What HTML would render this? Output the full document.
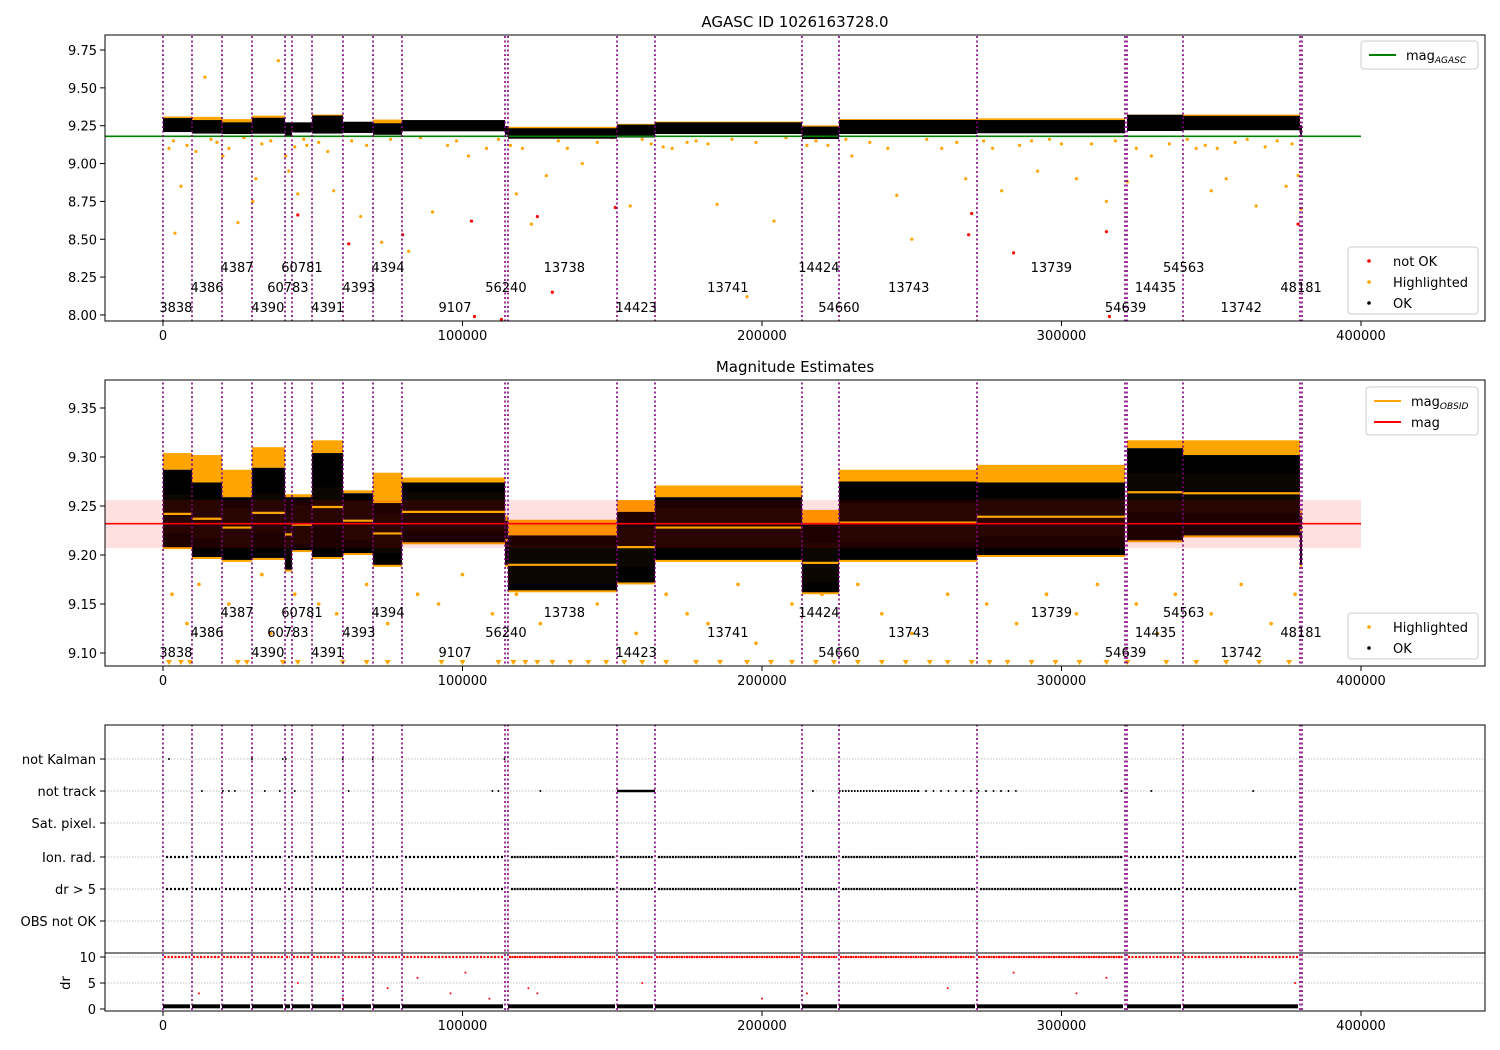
<!DOCTYPE html>
<html><head><meta charset="utf-8"><style>
body{margin:0;background:#fff}
svg{display:block;font-family:"DejaVu Sans","Liberation Sans",sans-serif}
</style></head><body>
<svg id="c" width="1500" height="1050" xmlns="http://www.w3.org/2000/svg"></svg>
<script>
// ---- data ----
const segStart=[0,9683,19700,29716,40735,43072,49750,60100,70117,79800,114190,115190,151586,164274,213356,225710,271786,321870,340568,379633];
const segEnd  =[9683,19700,29716,40735,43072,49750,60100,70117,79800,114190,115190,151586,164274,213356,225710,271786,321202,340568,379633,380300];
const magObs  =[9.242,9.237,9.228,9.243,9.221,9.231,9.249,9.235,9.222,9.244,9.215,9.190,9.208,9.228,9.192,9.233,9.239,9.264,9.263,9.225];
const okHigh  =[9.287,9.274,9.259,9.289,9.259,9.259,9.304,9.263,9.253,9.274,9.235,9.220,9.244,9.259,9.231,9.275,9.274,9.309,9.302,9.240];
const okLow   =[9.208,9.198,9.195,9.197,9.185,9.205,9.198,9.202,9.190,9.213,9.190,9.164,9.172,9.195,9.162,9.195,9.200,9.215,9.220,9.190];
const hlHigh  =[9.304,9.302,9.287,9.310,9.262,9.262,9.317,9.266,9.284,9.279,9.240,9.236,9.256,9.271,9.246,9.287,9.292,9.317,9.317,9.245];
const boundaries=[0,9683,19700,29716,40735,43072,49750,60100,70117,79800,114190,115190,151586,164274,213356,225710,271786,321202,321870,340568,379633,380300];
const obsLabels=["3838","4386","4387","4390","60783","60781","4391","4393","4394","9107","56240","13738","14423","13741","14424","54660","13743","13739","54639","14435","54563","13742","48181"];
const obsLabelT=[4300,14700,24700,35000,41700,46400,55000,65400,75100,97500,114500,134000,158000,188600,219000,225700,249000,296600,321400,331400,340800,360000,380000];
const obsLabelRow=[0,1,2,0,1,2,0,1,2,0,1,2,0,1,2,0,1,2,0,1,2,0,1];
const magAgasc=9.18, magMean=9.232, magLo=9.207, magHi=9.256;
const hl1T=[4000,6000,14000,25000,30000,31000,38500,42000,45000,57000,66000,73000,82000,90000,102000,108000,118000,123000,128000,140000,156000,170000,185000,195000,204000,230000,245000,250000,268000,280000,292000,305000,315000,322000,330000,350000,355000,365000,375000,379000,380000,2000,20000,48000,95000,135000,175000,215000,260000,300000,345000,
 3500,8000,11000,16000,18000,22000,27000,33000,36000,41000,44000,47000,52000,55000,63000,68000,76000,86000,98000,112000,116000,120000,132000,145000,150000,160000,163000,167000,178000,182000,190000,198000,208000,218000,222000,228000,236000,242000,255000,265000,274000,277000,286000,290000,296000,310000,318000,325000,336000,342000,348000,352000,358000,362000,368000,372000,377000];
const hl1M=[8.54,8.85,9.57,8.61,8.75,8.9,9.68,8.95,8.8,8.82,8.65,8.48,8.42,8.68,9.05,9.1,8.8,8.6,8.92,9.0,8.72,9.1,8.73,8.12,8.62,9.05,8.79,8.5,8.9,8.82,8.95,8.9,8.75,8.88,9.05,8.82,8.9,8.72,8.85,8.92,8.7,9.1,9.05,9.12,9.12,9.1,9.14,9.12,9.1,9.13,9.1,
 9.15,9.12,9.08,9.16,9.14,9.1,9.17,9.13,9.15,9.05,9.11,9.16,9.14,9.08,9.15,9.12,9.16,9.17,9.15,9.16,9.12,9.1,9.15,9.14,9.17,9.16,9.13,9.11,9.15,9.13,9.16,9.14,9.17,9.15,9.12,9.16,9.14,9.1,9.16,9.14,9.15,9.1,9.12,9.15,9.16,9.13,9.15,9.1,9.13,9.16,9.12,9.1,9.14,9.16,9.11,9.15,9.13];
const nok1T=[45000,62000,80000,103000,104000,113000,125000,130000,151000,269000,270000,284000,315000,316000,379000];
const nok1M=[8.66,8.47,8.53,8.62,7.99,7.97,8.65,8.15,8.71,8.53,8.67,8.41,8.55,7.99,8.6];
const hl2T=[3000,8000,12000,22000,33000,36000,44000,52000,58000,68000,75000,85000,92000,100000,110000,118000,126000,135000,145000,158000,168000,175000,182000,192000,198000,210000,220000,232000,240000,250000,262000,275000,285000,295000,305000,312000,325000,332000,338000,350000,360000,370000,378000];
const hl2M=[9.16,9.13,9.17,9.15,9.18,9.12,9.16,9.15,9.14,9.17,9.13,9.16,9.15,9.18,9.14,9.16,9.13,9.17,9.15,9.12,9.16,9.14,9.13,9.17,9.11,9.15,9.16,9.17,9.14,9.12,9.16,9.15,9.13,9.16,9.14,9.17,9.15,9.12,9.16,9.14,9.17,9.13,9.16];
const lowT=[2000,6000,9000,25000,28000,40000,45000,60000,68000,75000,93000,100000,112000,117000,121000,125000,130000,136000,142000,148000,154000,160000,168000,178000,186000,195000,203000,210000,218000,224000,232000,240000,248000,256000,262000,270000,276000,282000,290000,298000,306000,315000,322000,335000,345000,355000,366000,376000];
const trackT=[13000,20000,22000,24000,34000,39000,44000,62000,110000,112000,126000,217000,320000,330000,364000];
const drRedT=[12000,45000,60000,75000,85000,96000,101000,109000,122000,125000,160000,200000,215000,262000,272000,284000,305000,315000,378000];
const drRedV=[3,5,2,4,6,3,7,2,4,3,5,2,3,4,6,7,3,6,5];
// ---- scales ----
const xs=t=>163+t*0.0029950;
const y1=v=>50+(9.75-v)*151.4;
const y2=v=>408+(9.35-v)*980;
const yd=v=>1009-v*5.2;
const S=document.getElementById('c');
const NS='http://www.w3.org/2000/svg';
function mk(tag,at,parent){const e=document.createElementNS(NS,tag);for(const k in at)e.setAttribute(k,at[k]);(parent||S).appendChild(e);return e;}
function txt(s,x,y,at,parent){const e=mk('text',Object.assign({x:x,y:y,'font-size':13,fill:'#000'},at||{}),parent);e.textContent=s;return e;}
const defs=mk('defs',{});
[[35,286],[380,286],[725,286]].forEach((p,i)=>{const cp=mk('clipPath',{id:'cp'+i},defs);mk('rect',{x:105,y:p[0],width:1380,height:p[1]},cp);});

// ===== Panel 1 =====
const g1=mk('g',{'clip-path':'url(#cp0)'});


hl1T.forEach((t,i)=>{const c=mk('circle',{cx:xs(t),cy:y1(hl1M[i]),r:1.6,fill:'orange'},g1);});
for(let i=0;i<segStart.length;i++){
  const x0=xs(segStart[i]),x1=xs(segEnd[i]),w=Math.max(2,x1-x0);
  mk('rect',{x:x0,y:y1(hlHigh[i])-1,width:w,height:y1(okHigh[i])-y1(hlHigh[i])+1,fill:'orange'},g1);
  const r=mk('rect',{x:x0,y:y1(okHigh[i])-2,width:w,height:y1(okLow[i])-y1(okHigh[i])+2,fill:'#000'},g1);
  
  
}
nok1T.forEach((t,i)=>{const c=mk('circle',{cx:xs(t),cy:y1(nok1M[i]),r:1.6,fill:'red'},g1);});
mk('line',{x1:105,x2:1361,y1:y1(magAgasc),y2:y1(magAgasc),stroke:'green','stroke-width':1.6},g1);

// ===== Panel 2 =====
const g2=mk('g',{'clip-path':'url(#cp1)'});


hl2T.forEach((t,i)=>{const c=mk('circle',{cx:xs(t),cy:y2(hl2M[i]),r:1.8,fill:'orange'},g2);});
for(let i=0;i<segStart.length;i++){
  const x0=xs(segStart[i]),x1=xs(segEnd[i]),w=Math.max(2,x1-x0);
  mk('rect',{x:x0,y:y2(hlHigh[i]),width:w,height:y2(okHigh[i])-y2(hlHigh[i]),fill:'orange'},g2);
  mk('rect',{x:x0,y:y2(okLow[i])-1,width:w,height:3,fill:'orange'},g2);
  const r=mk('rect',{x:x0,y:y2(okHigh[i]),width:w,height:y2(okLow[i])-y2(okHigh[i]),fill:'#000'},g2);
  
  
  mk('rect',{x:x0,y:y2(magObs[i]+0.02),width:w,height:y2(magObs[i]-0.02)-y2(magObs[i]+0.02),fill:'#5a3000',opacity:0.12},g2);
}
mk('rect',{x:105,y:y2(magHi),width:1256,height:y2(magLo)-y2(magHi),fill:'red',opacity:0.12},g2);
for(let i=0;i<segStart.length;i++){
  const l=mk('line',{x1:xs(segStart[i]),x2:xs(segEnd[i]),y1:y2(magObs[i]),y2:y2(magObs[i]),stroke:'orange','stroke-width':2.2},g2);
  
  
}
mk('line',{x1:105,x2:1361,y1:y2(magMean),y2:y2(magMean),stroke:'red','stroke-width':1.6},g2);
lowT.forEach(t=>{const x=xs(t);const p=mk('path',{d:`M${x-3},660 L${x+3},660 L${x},665 Z`,fill:'orange'},g2);});

// ===== Panel 3 =====
const g3=mk('g',{'clip-path':'url(#cp2)'});


const cats=['not Kalman','not track','Sat. pixel.','Ion. rad.','dr > 5','OBS not OK'];
const catY=[759,791,823,857,889,921];
catY.forEach(y=>mk('line',{x1:105,x2:1485,y1:y,y2:y,stroke:'#b0b0b0','stroke-width':0.8,'stroke-dasharray':'1.5,1.5'},g3));
[957,983].forEach(y=>mk('line',{x1:105,x2:1485,y1:y,y2:y,stroke:'#b0b0b0','stroke-width':0.8,'stroke-dasharray':'1.5,1.5'},g3));
for(let i=0;i<segStart.length;i++){
  const x0=xs(segStart[i])+3,x1=xs(segEnd[i])-2;if(x1<=x0)continue;
  const dense=(segStart[i]>=115190&&segStart[i]<321202);
  [857,889].forEach(y=>mk('line',{x1:x0,x2:x1,y1:y,y2:y,stroke:'#000','stroke-width':2.2,'stroke-dasharray':dense?'2,0.8':'2,2'},g3));
  mk('line',{x1:x0-2,x2:x1,y1:yd(10),y2:yd(10),stroke:'red','stroke-width':2.2,'stroke-dasharray':dense?'2,0.5':'2,1.5'},g3);
  mk('rect',{x:x0-3,y:yd(0.9),width:x1-x0+3,height:4,fill:'#000'},g3);
}
mk('line',{x1:xs(151586),x2:xs(164274),y1:791,y2:791,stroke:'#000','stroke-width':2.5},g3);
mk('line',{x1:xs(225710),x2:xs(252000),y1:791,y2:791,stroke:'#000','stroke-width':2,'stroke-dasharray':'1.5,1.5'},g3);
mk('line',{x1:xs(252000),x2:xs(285000),y1:791,y2:791,stroke:'#000','stroke-width':2,'stroke-dasharray':'1.5,6'},g3);
trackT.forEach(t=>mk('circle',{cx:xs(t),cy:791,r:1,fill:'#000'},g3));
[40000,41000,2000,29700,60000,70000,114000].forEach(t=>mk('circle',{cx:xs(t),cy:759,r:1,fill:'#000'},g3));
drRedT.forEach((t,i)=>{const c=mk('circle',{cx:xs(t),cy:yd(drRedV[i]),r:1,fill:'red'},g3);});
mk('line',{x1:105,x2:1485,y1:953,y2:953,stroke:'#000','stroke-width':1},g3);

[g1,g2,g3].forEach(g=>boundaries.forEach(t=>{const l=mk('line',{x1:xs(t),x2:xs(t),y1:0,y2:1050,stroke:'purple','stroke-width':1.6,'stroke-dasharray':'2,2.5'},g);}));

obsLabels.forEach((s,i)=>{
  [307,652].forEach(base=>{const e=txt(s,xs(obsLabelT[i]),base-obsLabelRow[i]*20+5,{'text-anchor':'middle'});});
});

[[35,'panel1'],[380,'panel2'],[725,'panel3']].forEach(p=>{
  const r=mk('rect',{x:105,y:p[0],width:1380,height:286,fill:'none',stroke:'#000','stroke-width':1});
  
  const xt=[0,100000,200000,300000,400000];
  xt.forEach(t=>{const x=xs(t);mk('line',{x1:x,x2:x,y1:p[0]+286,y2:p[0]+291,stroke:'#000'});
    const e=txt(String(t),x,p[0]+305,{'text-anchor':'middle'});});
});
const y1Ticks=[8.00,8.25,8.50,8.75,9.00,9.25,9.50,9.75];
y1Ticks.forEach(v=>{const y=y1(v);mk('line',{x1:100,x2:105,y1:y,y2:y,stroke:'#000'});const e=txt(v.toFixed(2),97,y+5,{'text-anchor':'end'});});
const y2Ticks=[9.10,9.15,9.20,9.25,9.30,9.35];
y2Ticks.forEach(v=>{const y=y2(v);mk('line',{x1:100,x2:105,y1:y,y2:y,stroke:'#000'});const e=txt(v.toFixed(2),97,y+5,{'text-anchor':'end'});});
cats.forEach((c,i)=>{mk('line',{x1:100,x2:105,y1:catY[i],y2:catY[i],stroke:'#000'});const e=txt(c,96,catY[i]+5,{'text-anchor':'end'});});
const drTicks=[0,5,10];
drTicks.forEach(v=>{const y=yd(v);mk('line',{x1:100,x2:105,y1:y,y2:y,stroke:'#000'});txt(String(v),96,y+5,{'text-anchor':'end'});});
txt('dr',70,983,{'text-anchor':'middle',transform:'rotate(-90 70 983)'});
txt('AGASC ID 1026163728.0',795,27,{'text-anchor':'middle','font-size':15});
txt('Magnitude Estimates',795,372,{'text-anchor':'middle','font-size':15});

function legend(x,y,w,h,items,name){
  const g=mk('g',{});
  mk('rect',{x:x,y:y,width:w,height:h,rx:3,fill:'#fff','fill-opacity':0.8,stroke:'#ccc'},g);
  items.forEach((it,i)=>{const cy=y+14+i*21;
    if(it.type==='line')mk('line',{x1:x+8,x2:x+35,y1:cy,y2:cy,stroke:it.color,'stroke-width':2},g);
    else mk('circle',{cx:x+21,cy:cy,r:1.8,fill:it.color},g);
    const t=txt(it.label,x+45,cy+5,{},g);
    if(it.sub){const s=mk('tspan',{'font-size':9,'font-style':'italic',dy:3},t);s.textContent=it.sub;}
  });
}
legend(1361,41,117,28,[{type:'line',color:'green',label:'mag',sub:'AGASC'}],'legend-agasc');
legend(1348,247,130,67,[{type:'dot',color:'red',label:'not OK'},{type:'dot',color:'orange',label:'Highlighted'},{type:'dot',color:'#000',label:'OK'}],'legend-status-1');
legend(1366,387,112,48,[{type:'line',color:'orange',label:'mag',sub:'OBSID'},{type:'line',color:'red',label:'mag'}],'legend-mag');
legend(1348,613,130,46,[{type:'dot',color:'orange',label:'Highlighted'},{type:'dot',color:'#000',label:'OK'}],'legend-status-2');
</script>
</body></html>
